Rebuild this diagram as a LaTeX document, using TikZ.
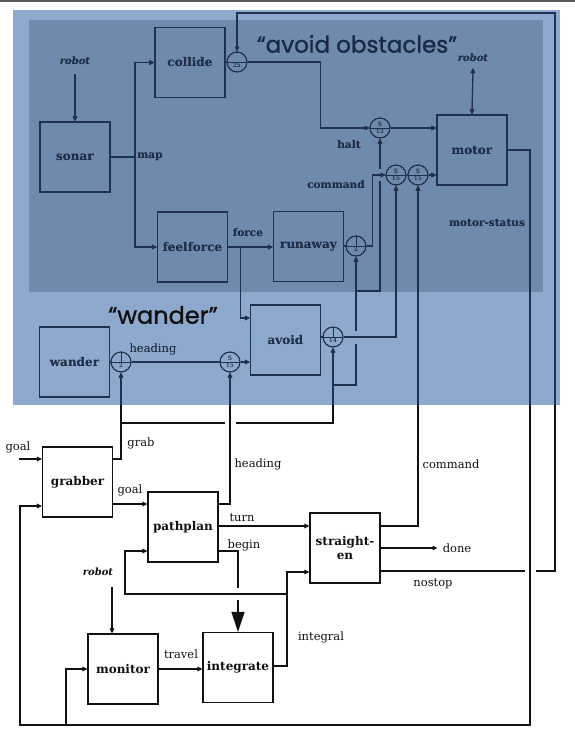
\documentclass[tikz,border=0pt]{standalone}
\usepackage{fontspec}
\setmainfont{DejaVu Serif}
\newfontfamily\handfont[FakeBold=1.2]{Poppins}
\usetikzlibrary{arrows.meta,calc}
\definecolor{lightblue}{HTML}{8DAACE}
\definecolor{darkfactor}{HTML}{C7CFD6}
\definecolor{navy}{HTML}{1F3150}
\definecolor{ink}{HTML}{111111}
\begin{document}
\begin{tikzpicture}[x=1pt,y=-1pt,
  wire/.style={draw=ink, line width=1.1pt},
  arr/.style={wire,-{Triangle[length=5pt,width=4.5pt]}},
  bigarr/.style={wire,-{Triangle[length=20pt,width=13pt]}},
  box/.style={draw=ink, line width=1.1pt, minimum width=70pt, minimum height=70pt, inner sep=0pt, text=ink, font=\fontsize{12}{13.5}\selectfont\bfseries},
  lab/.style={font=\fontsize{11.5}{13}\selectfont, inner sep=0pt, text=ink},
  tlab/.style={font=\fontsize{10.5}{12}\selectfont\bfseries, inner sep=0pt, text=ink},
  rob/.style={font=\fontsize{10}{12}\selectfont\bfseries\itshape, inner sep=0pt, text=ink},
  sup/.style={circle, draw=ink, line width=1pt, minimum size=20pt, inner sep=0pt, align=center, text=ink,
    font=\fontsize{6}{6.5}\selectfont,
    path picture={\draw[line width=0.8pt] (path picture bounding box.west) -- (path picture bounding box.east);}},
  inh/.style={sup, path picture={\draw[line width=0.8pt] (path picture bounding box.west) -- (path picture bounding box.east) (path picture bounding box.north) -- (path picture bounding box.center);}},
]
\useasboundingbox (0,0) rectangle (575,748);
\fill[white] (0,0) rectangle (575,748);
\fill[black!65] (0,0) rectangle (575,2);

% ---------- boxes ----------
\node[box] (sonar) at (75,157) {sonar};
\node[box] (collide) at (190,62.5) {collide};
\node[box] (feelforce) at (192.5,247) {feelforce};
\node[box] (runaway) at (308.5,246.5) {runaway};
\node[box] (motor) at (472,150) {motor};
\node[box] (wander) at (74.5,362) {wander};
\node[box] (avoid) at (285.5,340) {avoid};
\node[box] (grabber) at (77.5,482) {grabber};
\node[box] (pathplan) at (183,527) {pathplan};
\node[box, align=center] (straighten) at (345,548) {straight-\\en};
\node[box] (monitor) at (123,669) {monitor};
\node[box] (integrate) at (238,667.5) {integrate};

% ---------- suppressor / inhibitor circles ----------
\node[sup] (c25) at (237,62) {\vphantom{S}\\25};
\node[sup] (s12) at (380,128) {S\\12};
\node[sup] (s15a) at (396,175) {S\\15};
\node[sup] (s15b) at (418,175) {S\\15};
\node[inh] (crun) at (356,246) {\vphantom{S}\\2};
\node[inh] (cav) at (333,337) {\vphantom{S}\\14};
\node[inh] (cwan) at (121,362) {\vphantom{S}\\2};
\node[sup] (s15c) at (230,362) {S\\15};

% ---------- labels ----------
\node[rob] (robot1) at (75,61) {robot};
\node[rob] (robot2) at (473,58) {robot};
\node[rob] (robot3) at (98,572) {robot};
\node[tlab] (lmap) at (150,157) {map};
\node[tlab] (lhalt) at (349,145) {halt};
\node[tlab] (lcmd1) at (336,185) {command};
\node[tlab] (lforce) at (248,233) {force};
\node[tlab] (lms) at (487,223) {motor-status};
\node[lab] (lhead1) at (153,349) {heading};
\node[lab] (lgoalin) at (18,447) {goal};
\node[lab] (lgrab) at (141,443) {grab};
\node[lab] (lgoal) at (130,490) {goal};
\node[lab] (lhead2) at (258,464) {heading};
\node[lab] (lturn) at (242,518) {turn};
\node[lab] (lbegin) at (244,545) {begin};
\node[lab] (lcmd2) at (451,464) {command};
\node[lab] (done) at (457,548) {done};
\node[lab] (lnostop) at (433,584) {nostop};
\node[lab] (ltravel) at (181,654) {travel};
\node[lab] (lintegral) at (321,637) {integral};

% ---------- connectors: top ----------
\draw[arr] ($(robot1.south)+(0,9)$) -- (sonar.north);
\coordinate (mapj) at (135,157);
\draw[wire] (sonar.east) -- (mapj);
\draw[arr] (mapj) |- (collide.west);
\draw[arr] (mapj) |- (feelforce.west);
\draw[wire] (collide.east) -- (c25.west);
\draw[arr] (c25.east) -- ++(73,0) |- (s12.west);
\draw[arr] (s12.east) -- (s12.east -| motor.west);
\draw[wire,{Triangle[length=5pt,width=4.5pt]}-{Triangle[length=5pt,width=4.5pt]}] ($(robot2.south)+(0,6)$) -- (motor.north);

\draw[arr] (feelforce.east) -- (feelforce.east -| runaway.west);
\draw[arr] ($(feelforce.east)+(12,0)$) |- ($(avoid.west)+(0,-22)$);
\draw[wire] (runaway.east |- crun.west) -- (crun.west);
\draw[arr] (crun.east) -- ++(6,0) |- (s15a.west);
\draw[wire] (s15a.east) -- (s15b.west);
\draw[arr] (s15b.east) -- (s15b.east -| motor.west);

\draw[wire] (avoid.east |- cav.west) -- (cav.west);
\draw[arr] (cav.east) -| (s15a.south);

% inhibit lines
\coordinate (jh) at (356,291);
\draw[arr] (jh) -- (s12.south |- jh) -- (380,181) (380,169) -- (s12.south);
\draw[arr] (cav.south |- 0,385) -| (356,344) (356,331) -- (crun.south);

% wander
\draw[wire] (wander.east) -- (cwan.west);
\draw[wire] (cwan.east) -- (s15c.west);
\draw[arr] (s15c.east) -- (s15c.east -| avoid.west);

% grab
\draw[arr] (grabber.east |- 0,459) -| (cwan.south);
\draw[arr] (cwan.south |- 0,423) -- (225,423) (236,423) -| (cav.south);

% heading from pathplan
\draw[arr] (pathplan.east |- 0,504) -| (s15c.south);

% command from straighten
\draw[arr] (straighten.east |- 0,526) -| (s15b.south);

% nostop
\draw[arr] (straighten.east |- 0,571) -- (525,571) (536,571) -- (555,571) -- (555,13) -| (c25.north);

% motor-status
\draw[arr] (motor.east) -- (530,150) -- (530,725) -- (20,725) |- (grabber.west |- 0,506);
\draw[arr] (66,725) |- (monitor.west);

% ---------- connectors: bottom ----------
\coordinate (goalin) at (19,459);
\draw[arr] (goalin) -- (goalin -| grabber.west);
\draw[arr] (grabber.east |- 0,504) -- (pathplan.west |- 0,504);
\draw[arr] (pathplan.east |- 0,526) -- (straighten.west |- 0,526);
\draw[wire] (pathplan.east |- 0,551) -| (integrate.north |- 0,588);
\draw[bigarr] (integrate.north |- 0,600) -- (integrate.north);
\draw[arr] (integrate.east |- 0,666) -- (287,666) |- (straighten.west |- 0,572);
\draw[arr] (287,594) -- (125,594) |- (pathplan.west |- 0,551);
\draw[arr] (straighten.east) -- ($(done.west)+(-5,0)$);
\draw[arr] (112,587) -- (monitor.north -| 112,0);
\draw[arr] (monitor.east) -- (monitor.east -| integrate.west);

% ---------- blue overlay ----------
\begin{scope}[blend mode=multiply]
\fill[lightblue] (13,10) rectangle (560,405);
\fill[darkfactor] (29,20) rectangle (543,292);
\end{scope}
\begin{scope}[blend mode=lighten]
\fill[navy] (13,10) rectangle (560,405);
\end{scope}

\node[font=\handfont\fontsize{23}{25}\selectfont, text=navy!85!black, inner sep=0pt] (tavoid) at (357,44) {“avoid obstacles”};
\node[font=\handfont\fontsize{24}{26}\selectfont, text=ink, inner sep=0pt] (twander) at (163,315) {“wander”};
\end{tikzpicture}
\end{document}
